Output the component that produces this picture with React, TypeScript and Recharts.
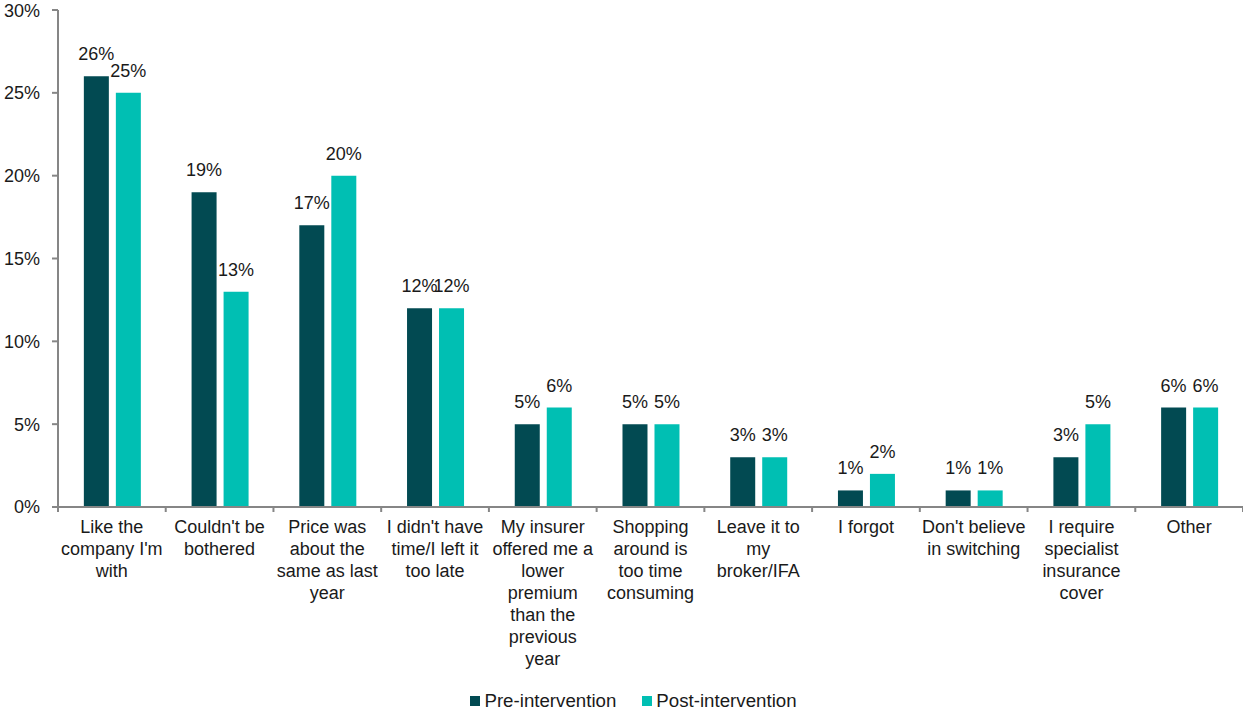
import { BarChart, Bar, XAxis, YAxis, Legend, LabelList } from 'recharts';

const categories = [
  "Like the\ncompany I'm\nwith",
  "Couldn't be\nbothered",
  'Price was\nabout the\nsame as last\nyear',
  "I didn't have\ntime/I left it\ntoo late",
  'My insurer\noffered me a\nlower\npremium\nthan the\nprevious\nyear',
  'Shopping\naround is\ntoo time\nconsuming',
  'Leave it to\nmy\nbroker/IFA',
  'I forgot',
  "Don't believe\nin switching",
  'I require\nspecialist\ninsurance\ncover',
  'Other',
];
const preIntervention = [0.26, 0.19, 0.17, 0.12, 0.05, 0.05, 0.03, 0.01, 0.01, 0.03, 0.06];
const postIntervention = [0.25, 0.13, 0.2, 0.12, 0.06, 0.05, 0.03, 0.02, 0.01, 0.05, 0.06];
const yTicks = [0, 0.05, 0.1, 0.15, 0.2, 0.25, 0.3];
const seriesNames = ['Pre-intervention', 'Post-intervention'];
const seriesColors = ['#024a52', '#00bfb3'];

const data = categories.map((c, i) => ({
  name: c,
  pre: preIntervention[i],
  post: postIntervention[i],
}));

const W = 1243;
const H = 713;
const Y_AXIS_W = 58;
const BAND = (W - Y_AXIS_W) / categories.length;
const FONT = '"Liberation Sans", Arial, sans-serif';
const AXIS = '#868686';
const TEXT = '#1a1a1a';

const pct = (v: number) => `${Math.round(v * 100)}%`;

function CategoryTick(props: any) {
  const { x, y, payload, index } = props;
  const lines = String(payload.value).split('\n');
  return (
    <g>
      <line x1={x - BAND / 2} x2={x - BAND / 2} y1={y - 9} y2={y - 3} stroke={AXIS} strokeWidth={2} />
      {index === categories.length - 1 && (
        <line x1={x + BAND / 2} x2={x + BAND / 2} y1={y - 9} y2={y - 3} stroke={AXIS} strokeWidth={2} />
      )}
      <text x={x} y={y + 18} textAnchor="middle" fontSize={18} fill={TEXT} fontFamily={FONT}>
        {lines.map((l, i) => (
          <tspan key={i} x={x} dy={i === 0 ? 0 : 22}>
            {l}
          </tspan>
        ))}
      </text>
    </g>
  );
}

function LegendContent() {
  return (
    <div
      style={{
        display: 'flex',
        justifyContent: 'center',
        paddingLeft: 24,
        fontFamily: FONT,
        fontSize: 18.7,
        color: TEXT,
        lineHeight: '24px',
      }}
    >
      {seriesNames.map((n, i) => (
        <div key={n} style={{ display: 'flex', alignItems: 'center', marginLeft: i === 0 ? 0 : 26 }}>
          <span style={{ display: 'inline-block', width: 10, height: 10, background: seriesColors[i], marginRight: 4 }} />
          {n}
        </div>
      ))}
    </div>
  );
}

export default function App() {
  return (
    <div style={{ position: 'absolute', left: 0, top: 0, width: W, height: H, background: '#fff' }}>
      <BarChart
        width={W}
        height={H}
        data={data}
        margin={{ top: 10, right: 0, bottom: 0, left: 0 }}
        barCategoryGap="24%"
        barGap={7}
        style={{ fontFamily: FONT }}
      >
        <XAxis
          dataKey="name"
          interval={0}
          height={182}
          tickLine={false}
          axisLine={{ stroke: AXIS, strokeWidth: 2 }}
          tick={<CategoryTick />}
        />
        <YAxis
          width={Y_AXIS_W}
          domain={[0, 0.3]}
          ticks={yTicks}
          tickFormatter={pct}
          axisLine={{ stroke: AXIS, strokeWidth: 2 }}
          tickLine={{ stroke: AXIS, strokeWidth: 2 }}
          tickSize={6}
          tickMargin={12}
          tick={{ fontSize: 18, fill: TEXT, fontFamily: FONT }}
        />
        <Legend verticalAlign="bottom" content={<LegendContent />} wrapperStyle={{ bottom: 0 }} />
        <Bar dataKey="pre" name={seriesNames[0]} fill={seriesColors[0]} isAnimationActive={false}>
          <LabelList dataKey="pre" position="top" offset={16} formatter={pct} fontSize={18} fill={TEXT} fontFamily={FONT} />
        </Bar>
        <Bar dataKey="post" name={seriesNames[1]} fill={seriesColors[1]} isAnimationActive={false}>
          <LabelList dataKey="post" position="top" offset={16} formatter={pct} fontSize={18} fill={TEXT} fontFamily={FONT} />
        </Bar>
      </BarChart>
    </div>
  );
}
